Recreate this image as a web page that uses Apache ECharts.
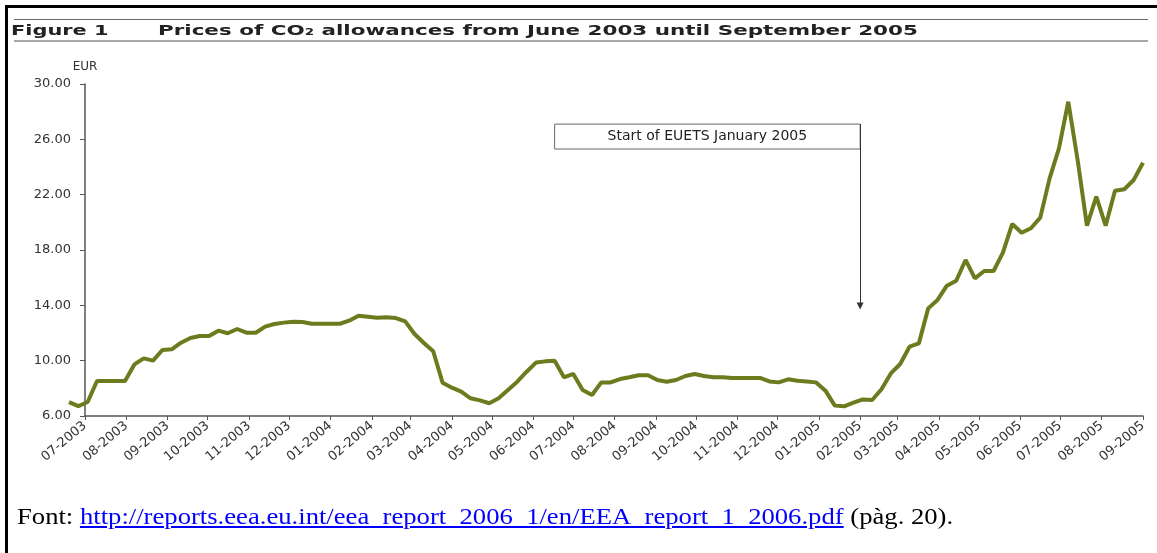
<!DOCTYPE html>
<html>
<head>
<meta charset="utf-8">
<title>Prices of CO2 allowances</title>
<script src="https://cdn.jsdelivr.net/npm/echarts@6/dist/echarts.min.js"></script>
<style>
  html, body { margin: 0; padding: 0; background: #fff; }
  #page { position: relative; width: 1157px; height: 553px; overflow: hidden; }
  #chart { position: absolute; left: 0; top: 0; width: 1157px; height: 553px; }
  .bar-top { position: absolute; left: 5px; top: 5px; width: 1152px; height: 3px; background: #000; }
  .bar-left { position: absolute; left: 5px; top: 5px; width: 3px; height: 548px; background: #000; }
  .rule-thin { position: absolute; left: 14px; top: 19px; width: 1134px; height: 1px; background: #6a6a6a; }
  .rule-thick { position: absolute; left: 14px; top: 40px; width: 1134px; height: 2px; background: #a8a8a8; }
  .head { position: absolute; top: 22px; font: bold 14px "DejaVu Sans"; line-height: 16px; color: #222;
          white-space: nowrap; transform-origin: 0 0; }
  #source { position: absolute; left: 17px; top: 504px; font: 24px "Liberation Serif"; line-height: 24px;
            color: #000; white-space: nowrap; transform-origin: 0 0; }
  #source a { color: #0000ff; text-decoration: underline; }
</style>
</head>
<body>
<div id="page">
  <div id="chart"></div>
  <div class="bar-top"></div>
  <div class="bar-left"></div>
  <div class="rule-thin"></div>
  <div class="rule-thick"></div>
  <div class="head" id="figNo" style="left:11px">Figure 1</div>
  <div class="head" id="figTitle" style="left:158px">Prices of CO₂ allowances from June 2003 until September 2005</div>
  <div id="source">Font: <a href="http://reports.eea.eu.int/eea_report_2006_1/en/EEA_report_1_2006.pdf">http://reports.eea.eu.int/eea_report_2006_1/en/EEA_report_1_2006.pdf</a> (pàg. 20).</div>
</div>
<script>
// weekly observations (Thursdays)
const weekDates = [
  '2003-06-19', '2003-06-26',
  '2003-07-03', '2003-07-10', '2003-07-17', '2003-07-24', '2003-07-31',
  '2003-08-07', '2003-08-14', '2003-08-21', '2003-08-28',
  '2003-09-04', '2003-09-11', '2003-09-18', '2003-09-25',
  '2003-10-02', '2003-10-09', '2003-10-16', '2003-10-23', '2003-10-30',
  '2003-11-06', '2003-11-13', '2003-11-20', '2003-11-27',
  '2003-12-04', '2003-12-11', '2003-12-18', '2003-12-25',
  '2004-01-01', '2004-01-08', '2004-01-15', '2004-01-22', '2004-01-29',
  '2004-02-05', '2004-02-12', '2004-02-19', '2004-02-26',
  '2004-03-04', '2004-03-11', '2004-03-18', '2004-03-25',
  '2004-04-01', '2004-04-08', '2004-04-15', '2004-04-22', '2004-04-29',
  '2004-05-06', '2004-05-13', '2004-05-20', '2004-05-27',
  '2004-06-03', '2004-06-10', '2004-06-17', '2004-06-24',
  '2004-07-01', '2004-07-08', '2004-07-15', '2004-07-22', '2004-07-29',
  '2004-08-05', '2004-08-12', '2004-08-19', '2004-08-26',
  '2004-09-02', '2004-09-09', '2004-09-16', '2004-09-23', '2004-09-30',
  '2004-10-07', '2004-10-14', '2004-10-21', '2004-10-28',
  '2004-11-04', '2004-11-11', '2004-11-18', '2004-11-25',
  '2004-12-02', '2004-12-09', '2004-12-16', '2004-12-23', '2004-12-30',
  '2005-01-06', '2005-01-13', '2005-01-20', '2005-01-27',
  '2005-02-03', '2005-02-10', '2005-02-17', '2005-02-24',
  '2005-03-03', '2005-03-10', '2005-03-17', '2005-03-24', '2005-03-31',
  '2005-04-07', '2005-04-14', '2005-04-21', '2005-04-28',
  '2005-05-05', '2005-05-12', '2005-05-19', '2005-05-26',
  '2005-06-02', '2005-06-09', '2005-06-16', '2005-06-23', '2005-06-30',
  '2005-07-07', '2005-07-14', '2005-07-21', '2005-07-28',
  '2005-08-04', '2005-08-11', '2005-08-18', '2005-08-25',
  '2005-09-01'
]

// EUR per allowance
const co2Price = [
  7.00, 6.72,
  7.01, 8.53, 8.53, 8.53, 8.53,
  9.73, 10.17, 10.00, 10.77,
  10.82, 11.30, 11.64, 11.78,
  11.78, 12.17, 11.98, 12.29, 12.02,
  12.02, 12.46, 12.65, 12.75,
  12.82, 12.80, 12.67, 12.67,
  12.67, 12.67, 12.89, 13.25, 13.18,
  13.10, 13.13, 13.08, 12.84,
  11.93, 11.28, 10.68, 8.41,
  8.05, 7.76, 7.28, 7.13, 6.92,
  7.28, 7.88, 8.48, 9.20,
  9.86, 9.95, 10.00, 8.80,
  9.04, 7.88, 7.52, 8.43, 8.43,
  8.67, 8.80, 8.94, 8.94,
  8.60, 8.48, 8.60, 8.89, 9.04,
  8.89, 8.80, 8.80, 8.75,
  8.75, 8.75, 8.75, 8.50,
  8.43, 8.65, 8.55, 8.50, 8.43,
  7.83, 6.75, 6.70, 6.96,
  7.20, 7.16, 7.93, 9.08,
  9.76, 11.01, 11.25, 13.78, 14.39,
  15.42, 15.78, 17.28, 15.95,
  16.48, 16.48, 17.81, 19.88,
  19.25, 19.57, 20.34, 23.18, 25.35,
  28.72, 24.51, 19.76, 21.86,
  19.76, 22.29, 22.39, 23.06,
  24.31
]

// the drawn axis starts at July 2003, the series a little earlier
const axisStart = '2003-07-01'
const axisEnd = '2005-09-01'
const yMin = 6
const yMax = 30
const yStep = 4

// annotation: box and arrow pointing at February 2005
const noteText = 'Start of EUETS January 2005'
const noteBoxFrom = ['2004-06-17', 27.1]
const noteBoxTo = ['2005-02-01', 25.3]
const arrowEnd = ['2005-02-01', 13.95]

const labelFont = 'DejaVu Sans'
const DAY = 24 * 3600 * 1000
const plotLeft = 85
const plotRight = 14
const plotTop = 84
const plotBottom = 137

// series grid reaches left of the axis so the June points sit outside it
const tStart = echarts.time.parse(axisStart)
const tEnd = echarts.time.parse(axisEnd)
const tFirst = echarts.time.parse(weekDates[0])
const plotWidth = 1157 - plotLeft - plotRight
const seriesLeft = plotLeft - (tStart - tFirst) / (tEnd - tStart) * plotWidth

// stretch the heading texts to the widths used in the figure
function fitWidth (id, width) {
  const el = document.getElementById(id)
  el.style.transform = 'scaleX(' + (width / el.offsetWidth) + ')'
}
fitWidth('figNo', 97)
fitWidth('figTitle', 760)
fitWidth('source', 936)

const myChart = echarts.init(document.getElementById('chart'))
myChart.setOption({
  animation: false,
  grid: [
    { left: plotLeft, right: plotRight, top: plotTop, bottom: plotBottom, containLabel: false, outerBoundsMode: 'none' },
    { left: seriesLeft, right: plotRight, top: plotTop, bottom: plotBottom, containLabel: false, outerBoundsMode: 'none' }
  ],
  xAxis: [
    {
      type: 'time',
      gridIndex: 0,
      min: tStart,
      max: tEnd,
      splitNumber: 26,
      minInterval: 28 * DAY,
      maxInterval: 31 * DAY,
      axisLine: { show: true, lineStyle: { color: '#555', width: 1.5 } },
      axisTick: { show: true, length: 4, lineStyle: { color: '#555' } },
      splitLine: { show: false },
      axisLabel: {
        rotate: 40,
        margin: 8,
        fontSize: 13,
        fontFamily: labelFont,
        color: '#333',
        hideOverlap: false,
        showMinLabel: true,
        showMaxLabel: true,
        formatter: (value) => {
          const d = new Date(value)
          return String(d.getMonth() + 1).padStart(2, '0') + '-' + d.getFullYear()
        }
      }
    },
    {
      type: 'time',
      gridIndex: 1,
      min: tFirst,
      max: tEnd,
      show: false
    }
  ],
  yAxis: [
    {
      type: 'value',
      gridIndex: 0,
      min: yMin,
      max: yMax,
      interval: yStep,
      name: 'EUR',
      nameLocation: 'end',
      nameGap: 11,
      nameTextStyle: { fontSize: 12, fontFamily: labelFont, color: '#333', align: 'center' },
      axisLine: { show: true, lineStyle: { color: '#555', width: 1.5 } },
      axisTick: { show: true, length: 5, lineStyle: { color: '#555' } },
      splitLine: { show: false },
      axisLabel: {
        margin: 14,
        fontSize: 13,
        fontFamily: labelFont,
        color: '#333',
        formatter: (v) => v.toFixed(2)
      }
    },
    {
      type: 'value',
      gridIndex: 1,
      min: yMin,
      max: yMax,
      show: false,
      splitLine: { show: false }
    }
  ],
  series: [
    {
      type: 'line',
      xAxisIndex: 1,
      yAxisIndex: 1,
      data: weekDates.map((d, i) => [d, co2Price[i]]),
      symbol: 'none',
      lineStyle: { color: '#6b7b1e', width: 4 },
      markArea: {
        silent: true,
        itemStyle: { color: '#fff', borderColor: '#666', borderWidth: 1 },
        label: { show: true, position: 'inside', fontSize: 14, fontFamily: labelFont, color: '#222' },
        data: [[{ name: noteText, coord: noteBoxFrom }, { coord: noteBoxTo }]]
      },
      markLine: {
        silent: true,
        symbol: ['none', 'triangle'],
        symbolSize: 7,
        label: { show: false },
        lineStyle: { color: '#333', width: 1, type: 'solid' },
        data: [[{ coord: [noteBoxTo[0], noteBoxFrom[1]] }, { coord: arrowEnd }]]
      }
    }
  ]
})
</script>
</body>
</html>
